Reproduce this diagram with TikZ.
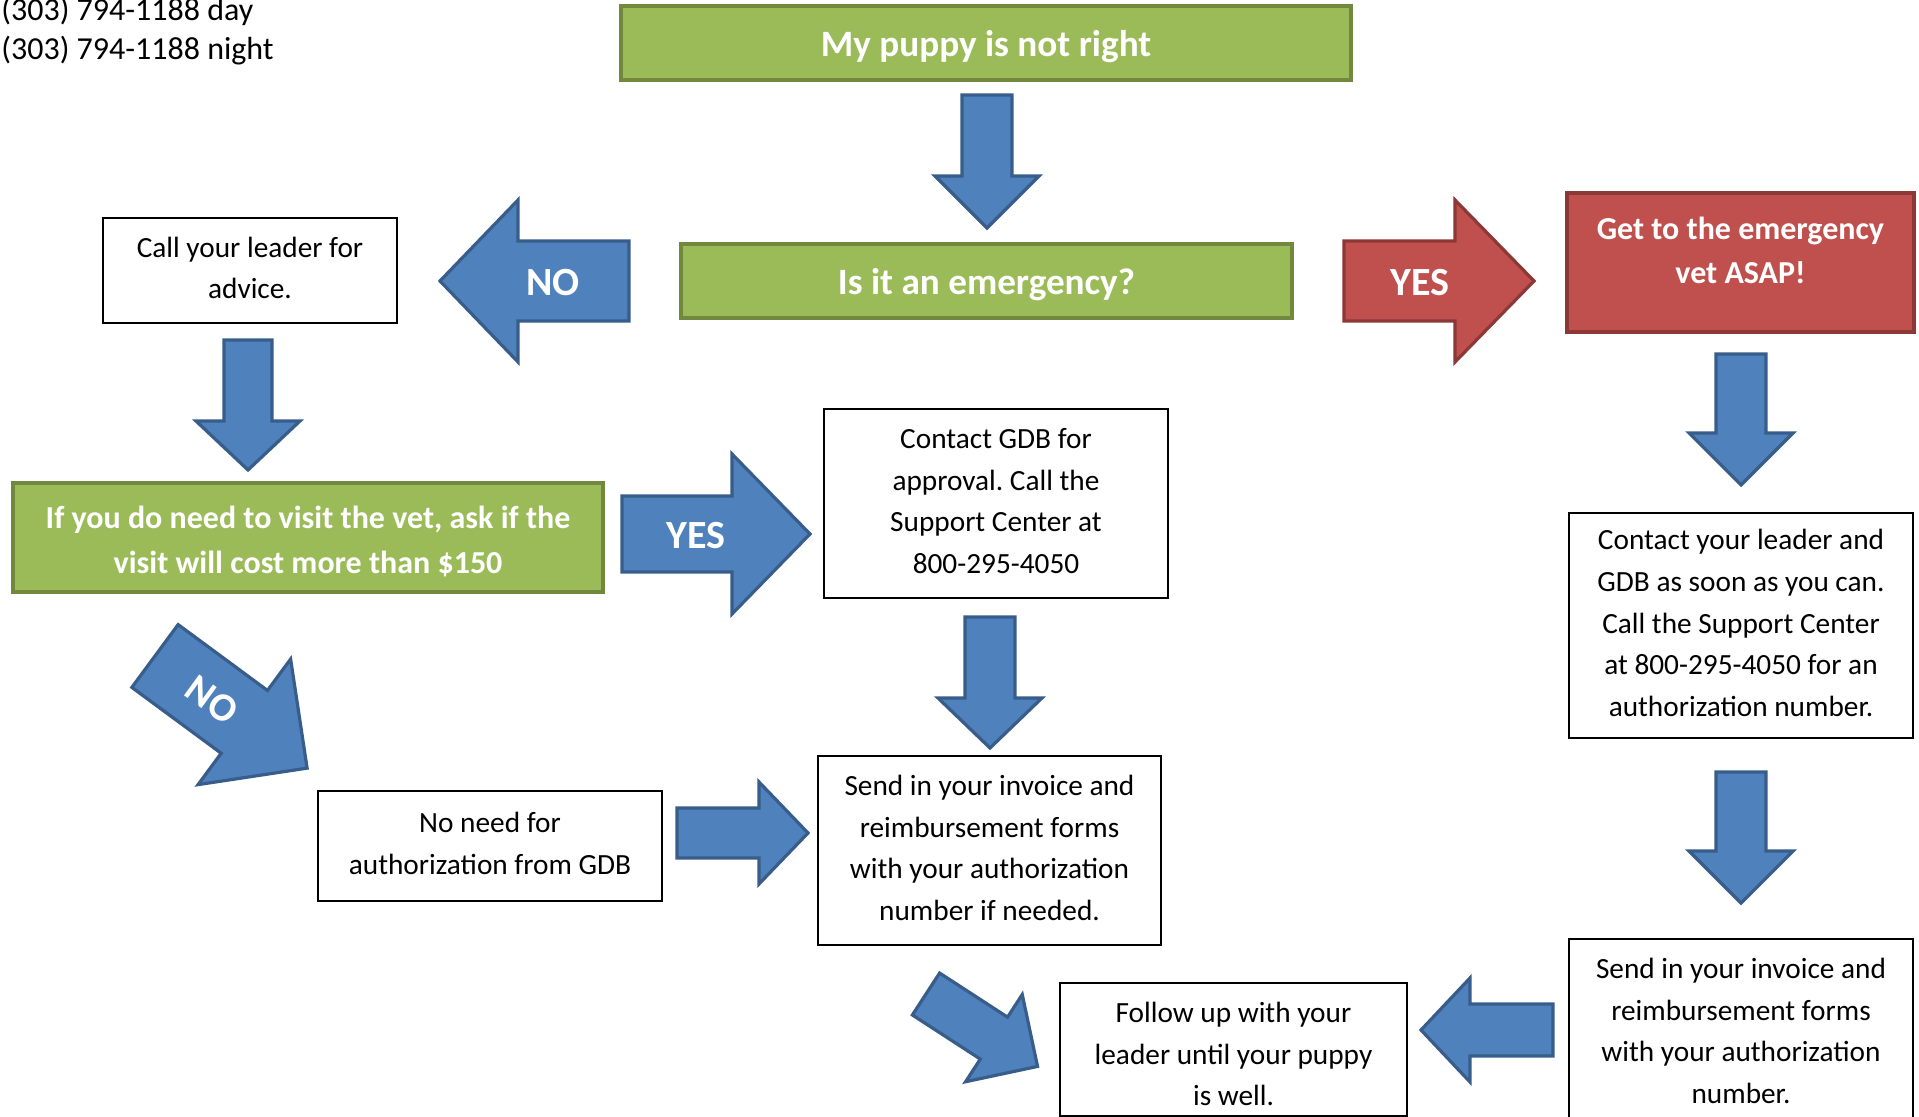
\documentclass[tikz,border=0pt]{standalone}
\usepackage{fontspec}
\setmainfont{Carlito}
\frenchspacing
\definecolor{leaf}{HTML}{9BBB59}
\definecolor{leafedge}{HTML}{71893F}
\definecolor{brick}{HTML}{C0504D}
\definecolor{brickedge}{HTML}{8C3836}
\definecolor{sky}{HTML}{4F81BD}
\definecolor{skyedge}{HTML}{385D8A}
\tikzset{
  pics/blockarr/.style args={#1/#2/#3/#4}{code={
    \path[pic actions] (0,-#2) -- ({#1-#4},-#2) -- ({#1-#4},-#3) -- (#1,0)
      -- ({#1-#4},#3) -- ({#1-#4},#2) -- (0,#2) -- cycle;}}
}

\begin{document}
\begin{tikzpicture}[x=0.5pt,y=-0.5pt,line join=miter,
    plain/.style={draw=black,line width=1pt,fill=white,align=center,text depth=2.5pt,
      font=\fontsize{14.65}{20.8}\selectfont},
    greenbox/.style={draw=leafedge,line width=2.2pt,fill=leaf,text=white,text depth=0pt,
      align=center,font=\bfseries\fontsize{18.6}{22.5}\selectfont},
    redbox/.style={greenbox,draw=brickedge,fill=brick},
    bluearr/.style={fill=sky,draw=skyedge,line width=1.6pt},
    redarr/.style={fill=brick,draw=brickedge,line width=1.6pt},
    word/.style={text=white,font=\bfseries\fontsize{20}{24}\selectfont}]
  \useasboundingbox (0,0) rectangle (1919,1117);
  \node[anchor=west,inner sep=0pt,align=left,font=\fontsize{16}{19.5}\selectfont]
    (phone) at (1,31.5) {(303) 794-1188 day\\(303) 794-1188 night};
  \node[greenbox,minimum width=365pt,minimum height=37pt] (puppy) at (986,43)
    {My puppy is not right};
  \node[greenbox,minimum width=305.5pt,minimum height=37pt] (emerg) at (986.5,281)
    {Is it an emergency?};
  \node[redbox,minimum width=173.5pt,minimum height=69.5pt,text depth=12pt,
    font=\bfseries\fontsize{16}{22}\selectfont] (vet) at (1740.5,262.5)
    {Get to the emergency\\vet ASAP!};
  \node[plain,minimum width=147pt,minimum height=52.5pt] (call) at (250,270.5)
    {Call your leader for\\advice.};
  \node[greenbox,minimum width=295pt,minimum height=54.5pt,
    font=\bfseries\fontsize{16}{22.5}\selectfont] (cost) at (308,537.5)
    {\rule{0pt}{13.9pt}If you do need to visit the vet, ask if the\\visit will cost more than \$150};
  \node[plain,minimum width=172pt,minimum height=94.5pt] (gdb) at (996,503.5)
    {Contact GDB for\\approval. Call the\\Support Center at\\800-295-4050};
  \node[plain,minimum width=172pt,minimum height=55pt] (noauth) at (490,846)
    {No need for\\authorization from GDB};
  \node[plain,minimum width=171.5pt,minimum height=94.5pt] (sendA) at (989.5,850.5)
    {Send in your invoice and\\reimbursement forms\\with your authorization\\number if needed.};
  \node[plain,minimum width=172pt,minimum height=112.5pt] (lead) at (1741,625.5)
    {Contact your leader and\\GDB as soon as you can.\\Call the Support Center\\at 800-295-4050 for an\\authorization number.};
  \node[plain,minimum width=172pt,minimum height=94.5pt] (sendB) at (1741,1033.5)
    {Send in your invoice and\\reimbursement forms\\with your authorization\\number.};
  \node[plain,minimum width=173.5pt,minimum height=66.5pt,text depth=0pt] (follow)
    at (1233.5,1049.5) {\rule{0pt}{14.8pt}Follow up with your\\leader until your puppy\\is well.};

  \pic[bluearr,rotate=-90] at (987,95) {blockarr={133/25/52/52}};
  \pic[bluearr,rotate=180] at (629,281) {blockarr={189/40/81/78}};
  \pic[redarr] at (1344,281) {blockarr={190/40/81/79}};
  \pic[bluearr,rotate=-90] at (248,340) {blockarr={130/24/52/49}};
  \pic[bluearr,rotate=-90] at (1741,354) {blockarr={131/25/52/52}};
  \pic[bluearr] at (622,534) {blockarr={188/38/80/78}};
  \pic[bluearr,rotate=-90] at (990,617) {blockarr={131/25/52/50}};
  \pic[bluearr,rotate=-90] at (1741,772) {blockarr={131/25/52/52}};
  \pic[bluearr] at (677,833) {blockarr={131/25/51/49}};
  \pic[bluearr,rotate=-36.4] at (155,656) {blockarr={189/39/78/78}};
  \pic[bluearr,rotate=-33] at (926,994) {blockarr={133/25/52/52}};
  \pic[bluearr,rotate=180] at (1553,1030) {blockarr={132/26/52/49}};

  \node[word] (noA) at (553,283) {NO};
  \node[word] (yesA) at (1420,283) {YES};
  \node[word] (yesB) at (696,536) {YES};
  \node[word,rotate=-36] (noB) at (212,700) {NO};
\end{tikzpicture}
\end{document}
